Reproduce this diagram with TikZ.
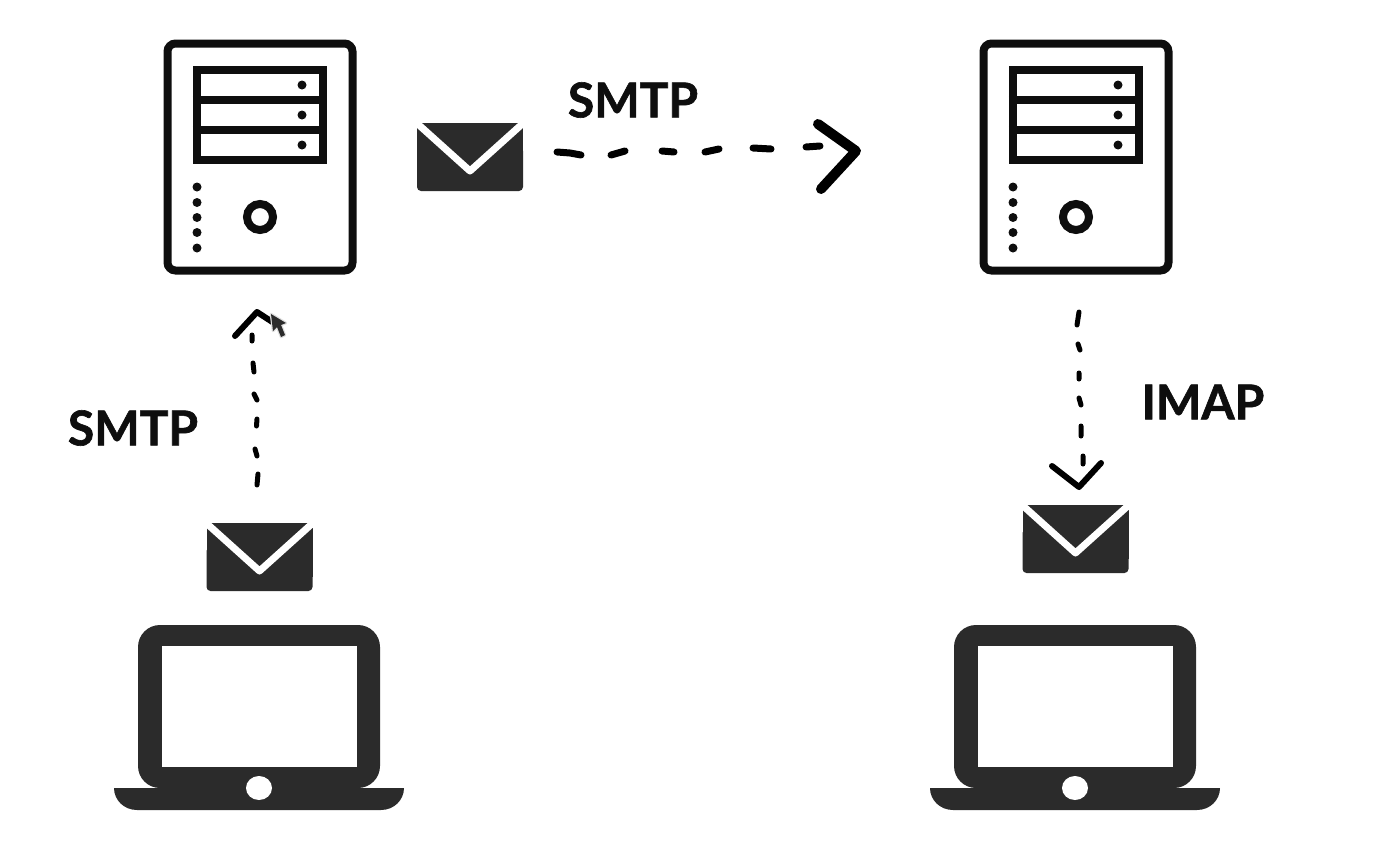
\documentclass[tikz,border=0pt]{standalone}
\usepackage{fontspec}
\newfontfamily\protofont[FakeBold=1.3]{Lato Bold}
\definecolor{icondark}{HTML}{2B2B2B}
\definecolor{caseblack}{HTML}{0E0E0E}
\tikzset{
  proto/.style={font=\protofont\fontsize{48}{52}\selectfont, text=caseblack, inner sep=0pt},
  dashmark/.style={draw=black, line width=5pt, line cap=round},
  headmark/.style={draw=black, line width=6pt, line cap=round, line join=round},
  pics/servericon/.style={code={
    \node [draw=caseblack, line width=8pt, rounded corners=8pt, minimum width=185pt, minimum height=227pt, inner sep=0pt] (-case) at (0,0) {};
    \node [draw=caseblack, line width=8.5pt, minimum width=126pt, minimum height=90pt, inner sep=0pt] (-rack) at (0,-42) {};
    \draw [caseblack, line width=7.5pt] (-rack.west |- 0,-57) -- (-rack.east |- 0,-57);
    \draw [caseblack, line width=7.5pt] (-rack.west |- 0,-27) -- (-rack.east |- 0,-27);
    \foreach \y in {-72,-42,-12} \fill [caseblack] (42,\y) circle (4.5pt);
    \foreach \y in {30,45.5,60.5,75.5,91} \fill [caseblack] (-63,\y) circle (4.5pt);
    \draw [caseblack, line width=8pt] (0,60) circle (13pt);
  }},
  pics/mailicon/.style={code={
    \fill [icondark, rounded corners=4pt] (-53,-10) rectangle (53,34);
    \fill [icondark] (-53,-34) rectangle (53,20);
    \draw [white, line width=7pt, line join=round] (-60,-40) -- (0,14) -- (60,-40);
  }},
  pics/laptopicon/.style={code={
    \node [fill=icondark, rounded corners=22pt, minimum width=242pt, minimum height=163pt, inner sep=0pt] (-body) at (0,-81.5) {};
    \node [fill=white, minimum width=195pt, minimum height=121pt, inner sep=0pt] (-screen) at (0.5,-81.5) {};
    \fill [icondark] (-145,0) -- (145,0) .. controls (145,12) and (135,22) .. (122,22) -- (-122,22) .. controls (-135,22) and (-145,12) .. (-145,0) -- cycle;
    \fill [white] (0,0) ellipse (13pt and 12pt);
  }},
}
\begin{document}
\begin{tikzpicture}[x=1pt, y=-1pt]
\useasboundingbox (0,0) rectangle (1398,865);

% servers, envelopes, laptops
\pic (srvA) at (260,157) {servericon};
\pic (srvB) at (1076,157) {servericon};
\pic (mailA) at (470,157) {mailicon};
\pic (mailB) at (259.5,557) {mailicon};
\pic (mailC) at (1075.5,539) {mailicon};
\pic (lapA) at (259,788) {laptopicon};
\pic (lapB) at (1075,788) {laptopicon};

\node [proto] (smtpTop)  at (633,100)  {SMTP};
\node [proto] (smtpLeft) at (133,428)  {SMTP};
\node [proto] (imapRight) at (1203,402) {IMAP};

% hand drawn arrows: free ends of every stroke
\foreach \n/\x/\y in {t1/557/152, t2/570/153, t3/581/155, t4/611/155, t5/625/151,
                      t6/662/151, t7/674/152, t8/705/152, t9/719/149, t10/753/148,
                      t11/771/149, t12/806/147, t13/820/146,
                      th1/818/124, th2/856/151, th3/821/189,
                      l1/257/485, l2/258/474, l3/257/456, l4/255/449, l5/256.5/426,
                      l6/257/419, l7/257/400, l8/254/394, l9/254/372, l10/253/363,
                      l11/252/341, l12/252/335,
                      lh1/235/336, lh2/257/312, lh3/277/325,
                      r1/1077/325, r2/1079/312, r3/1078/344, r4/1080/350, r5/1079/373,
                      r6/1079/379, r7/1079/398, r8/1081/405, r9/1081/426, r10/1081/436,
                      r11/1083/456, r12/1083/464,
                      rh1/1052/466, rh2/1079/487, rh3/1101/463}
  \coordinate (\n) at (\x,\y);

\draw [dashmark, line width=7pt] (t1) -- (t2) -- (t3) (t4) -- (t5) (t6) -- (t7)
      (t8) -- (t9) (t10) -- (t11) (t12) -- (t13);
\draw [headmark, line width=10pt] (th1) -- (th2) -- (th3);

\draw [dashmark] (l1) -- (l2) (l3) -- (l4) (l5) -- (l6) (l7) -- (l8) (l9) -- (l10) (l11) -- (l12);
\draw [headmark] (lh1) -- (lh2) -- (lh3);

\draw [dashmark] (r1) -- (r2) (r3) -- (r4) (r5) -- (r6) (r7) -- (r8) (r9) -- (r10) (r11) -- (r12);
\draw [headmark] (rh1) -- (rh2) -- (rh3);

% mouse pointer
\draw [draw=gray!25, line width=2.5pt, line join=round, fill=icondark]
      (271,314) -- (273,331) -- (277,327) -- (281,337) -- (285,335) -- (281,325) -- (286,323) -- cycle;
\fill [icondark] (271,314) -- (273,331) -- (277,327) -- (281,337) -- (285,335) -- (281,325) -- (286,323) -- cycle;

\end{tikzpicture}
\end{document}
